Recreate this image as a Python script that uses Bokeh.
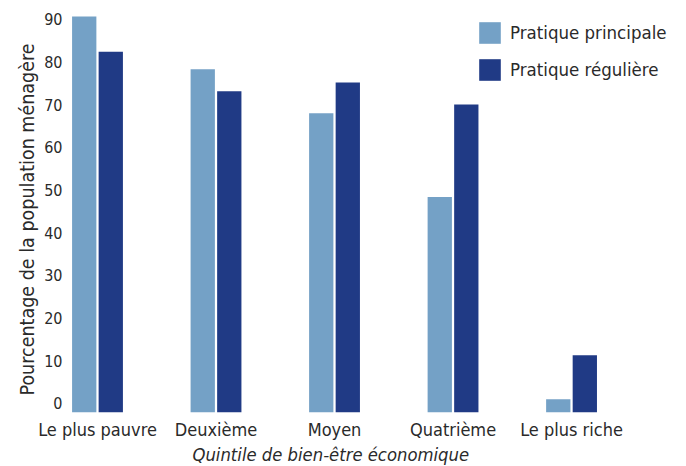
from bokeh.plotting import figure
from bokeh.models import Range1d, LinearAxis, FixedTicker, Legend, LegendItem, Title
from bokeh.transform import dodge
from bokeh.embed import file_html
from bokeh.resources import INLINE
from bokeh.models import ColumnDataSource

categories = ["Le plus pauvre", "Deuxième", "Moyen", "Quatrième", "Le plus riche"]
principale = [90, 78, 68, 49, 3]
reguliere = [82, 73, 75, 70, 13]
y_ticks = [0, 10, 20, 30, 40, 50, 60, 70, 80, 90]

FONT = "DejaVu Sans Condensed"
TXT = "#2a2a2a"
LIGHT = "#74A1C6"
DARK = "#203A85"

pos = list(range(len(categories)))
src = ColumnDataSource(dict(x=pos, a=principale, b=reguliere))

p = figure(width=686, height=466, output_backend="svg", toolbar_location=None,
           x_range=Range1d(-0.2616, 4.970), y_range=Range1d(0, 93.64),
           y_axis_location=None, x_axis_location=None,
           min_border_left=66, min_border_top=0,
           min_border_right=0, min_border_bottom=54)
p.outline_line_color = None
p.xgrid.visible = False
p.ygrid.visible = False

r1 = p.vbar(x=dodge("x", -0.112, range=p.x_range), top="a", width=0.205, source=src,
            fill_color=LIGHT, line_color=None)
r2 = p.vbar(x=dodge("x", 0.112, range=p.x_range), top="b", width=0.205, source=src,
            fill_color=DARK, line_color=None)

def plain(ax):
    ax.axis_line_color = None
    ax.major_tick_line_color = None
    ax.minor_tick_line_color = None
    ax.major_tick_out = 0
    ax.major_tick_in = 0
    ax.minor_tick_out = 0
    ax.minor_tick_in = 0

# y tick labels
p.extra_y_ranges = {"lab": Range1d(-2.11, 94.38)}
yax = LinearAxis(y_range_name="lab", ticker=FixedTicker(ticks=y_ticks))
plain(yax)
yax.major_label_standoff = 4
yax.major_label_text_font = FONT
yax.major_label_text_font_size = "16px"
yax.major_label_text_color = TXT
p.add_layout(yax, "left")

# y title
ytit = Title(text="Pourcentage de la population ménagère", align="left", offset=17,
             vertical_align="middle", standoff=4,
             text_font=FONT, text_font_size="19.5px", text_font_style="normal",
             text_color=TXT)
p.add_layout(ytit, "left")

# x tick labels
xax = LinearAxis(ticker=FixedTicker(ticks=pos))
xax.major_label_overrides = {i: c for i, c in zip(pos, categories)}
plain(xax)
xax.major_label_standoff = 6
xax.major_label_text_font = FONT
xax.major_label_text_font_size = "18px"
xax.major_label_text_color = TXT
p.add_layout(xax, "below")

# x title
xtit = Title(text="Quintile de bien-être économique", align="left", offset=126,
             vertical_align="middle", standoff=0,
             text_font=FONT, text_font_size="18.3px", text_font_style="italic",
             text_color=TXT)
p.add_layout(xtit, "below")

legend = Legend(items=[LegendItem(label="Pratique principale", renderers=[r1]),
                       LegendItem(label="Pratique régulière", renderers=[r2])],
                location=(410, 329), orientation="vertical")
legend.padding = 0
legend.margin = 0
legend.spacing = 10
legend.glyph_width = 27
legend.glyph_height = 27
legend.label_height = 27
legend.label_standoff = 7
legend.border_line_color = None
legend.background_fill_alpha = 0
legend.label_text_font = FONT
legend.label_text_font_size = "18.5px"
legend.label_text_color = TXT
p.add_layout(legend)

open("out.html", "w").write(file_html(p, INLINE))
